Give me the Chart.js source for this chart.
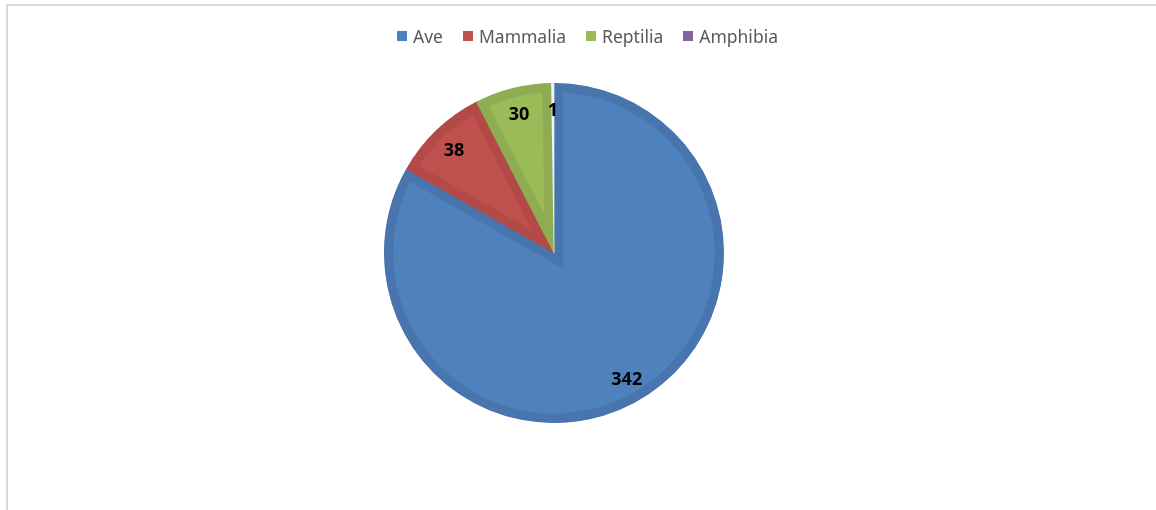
<!DOCTYPE html>
<html>
<head>
<meta charset="utf-8">
<script src="https://cdn.jsdelivr.net/npm/chart.js@4.4.1/dist/chart.umd.min.js"></script>
<style>
  html, body { margin: 0; padding: 0; background: #ffffff; overflow: hidden; }
  #wrap { position: relative; width: 1156px; height: 510px; }
  #frame { position: absolute; left: 6px; top: 4px; width: 1160px; height: 520px;
           border-left: 2px solid #d9d9d9; border-top: 2px solid #d9d9d9; box-sizing: border-box; }
  #c { position: absolute; left: 0; top: 0; }
  #legend { position: absolute; left: 397px; top: 24px; display: flex; align-items: center;
            font-family: "Noto Sans", sans-serif; font-size: 17.5px; color: #595959; white-space: nowrap; }
  .item { display: flex; align-items: center; margin-right: 20px; }
  .box { width: 10px; height: 10px; margin-right: 6px; }
</style>
</head>
<body>
<div id="wrap">
  <div id="frame"></div>
  <canvas id="c" width="1156" height="510"></canvas>
  <div id="legend"></div>
</div>
<script>
const categories = ["Ave", "Mammalia", "Reptilia", "Amphibia"];
const values = [342, 38, 30, 1];
const fillColors = ["#4F81BD", "#C0504D", "#9BBB59", "#8064A2"];
const edgeColors = ["#4875AE", "#B24A47", "#8EAC52", "#f2f2f2"];

// HTML legend
const legendEl = document.getElementById('legend');
categories.forEach((name, i) => {
  const it = document.createElement('div');
  it.className = 'item';
  const b = document.createElement('div');
  b.className = 'box';
  b.style.background = fillColors[i];
  const t = document.createElement('span');
  t.textContent = name;
  it.appendChild(b); it.appendChild(t);
  legendEl.appendChild(it);
});

const valueLabels = {
  id: 'valueLabels',
  afterDatasetsDraw(chart) {
    const ctx = chart.ctx;
    const meta = chart.getDatasetMeta(0);
    ctx.save();
    ctx.font = 'bold 18px "Noto Sans", sans-serif';
    ctx.fillStyle = '#000000';
    ctx.textAlign = 'center';
    ctx.textBaseline = 'middle';
    meta.data.forEach((arc, i) => {
      const p = arc.getProps(['x', 'y', 'startAngle', 'endAngle', 'outerRadius'], true);
      const mid = (p.startAngle + p.endAngle) / 2;
      const r = p.outerRadius * 0.85;
      ctx.fillText(String(values[i]), p.x + Math.cos(mid) * r, p.y + Math.sin(mid) * r + 2);
    });
    ctx.restore();
  }
};

new Chart(document.getElementById('c'), {
  type: 'pie',
  data: {
    labels: categories,
    datasets: [{
      data: values,
      backgroundColor: fillColors,
      borderColor: edgeColors,
      borderWidth: 9,
      borderAlign: 'inner',
      borderJoinStyle: 'miter',
      hoverOffset: 0
    }]
  },
  options: {
    responsive: false,
    animation: false,
    devicePixelRatio: 1,
    radius: 170,
    layout: { padding: { left: 354, right: 402, top: 53, bottom: 57 } },
    plugins: {
      legend: { display: false },
      tooltip: { enabled: false }
    }
  },
  plugins: [valueLabels]
});
</script>
</body>
</html>
